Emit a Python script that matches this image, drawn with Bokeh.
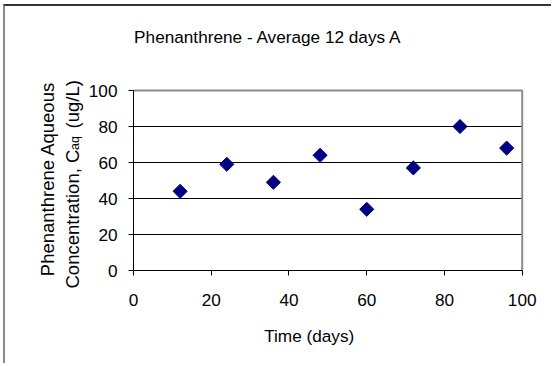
import numpy as np
from bokeh.plotting import figure
from bokeh.models import Range1d, FixedTicker, Label
from bokeh.embed import file_html
from bokeh.resources import INLINE

# ---- data ----
time_days = [12, 24, 36, 48, 60, 72, 84, 96]
conc_ugL = [44, 59, 49, 64, 34, 57, 80, 68]
x_ticks = [0, 20, 40, 60, 80, 100]
y_ticks = [0, 20, 40, 60, 80, 100]
grid_ticks = [20, 40, 60, 80]
x_lim = [0, 100]
y_lim = [0, 100]
title_text = "Phenanthrene - Average 12 days A"
x_label_text = "Time (days)"
y_label_line1 = "Phenanthrene Aqueous"
y_label_line2a = "Concentration, C"
y_label_sub = "aq"
y_label_line2b = "(ug/L)"

FONT = "Liberation Sans"
# ---- layout (pixels on the page) ----
OX, OY = 5, 6               # canvas origin on the page
W, H = 548, 359             # canvas size
PX0, PX1 = 133.0, 521.7     # page x of x_lim[0], x_lim[1]
PY0, PY1 = 270.0, 90.0      # page y of y_lim[0], y_lim[1]

kx = (PX1 - PX0) / (x_lim[1] - x_lim[0])
ky = (PY0 - PY1) / (y_lim[1] - y_lim[0])

def X(px):
    return x_lim[0] + (px - PX0) / kx
def Y(py):
    return y_lim[0] + (PY0 - py) / ky

p = figure(width=W, height=H, output_backend="svg", toolbar_location=None,
           x_range=Range1d(X(OX), X(OX + W)), y_range=Range1d(Y(OY + H), Y(OY)),
           min_border_left=0, min_border_right=0,
           min_border_top=0, min_border_bottom=0)
p.styles = {"margin-left": "3px", "margin-top": "4px",
            "border-left": "2px solid #8a8a8a", "border-top": "2px solid #333333"}
p.background_fill_color = "white"
p.border_fill_color = "white"
p.outline_line_color = None
p.xgrid.visible = False
p.ygrid.visible = False

for ax in (p.xaxis[0], p.yaxis[0]):
    ax.axis_line_color = "black"
    ax.axis_line_width = 1
    ax.major_tick_line_color = "black"
    ax.major_tick_out = 5
    ax.major_tick_in = 0
    ax.minor_tick_line_color = None
    ax.major_label_text_font = FONT
    ax.major_label_text_font_size = "17.2px"
    ax.major_label_text_color = "black"
p.xaxis.fixed_location = y_lim[0]
p.yaxis.fixed_location = x_lim[0]
p.xaxis.bounds = tuple(x_lim)
p.yaxis.bounds = tuple(y_lim)
p.xaxis.ticker = FixedTicker(ticks=x_ticks)
p.yaxis.ticker = FixedTicker(ticks=y_ticks)
p.xaxis.major_label_standoff = 18
p.yaxis.major_label_standoff = 11

# horizontal gridlines
n = len(grid_ticks)
p.segment(x0=[x_lim[0]] * n, x1=[x_lim[1]] * n, y0=grid_ticks, y1=grid_ticks,
          line_color="black", line_width=1)
# plot-area border (top and right, grey)
p.line(x=[x_lim[0], x_lim[1], x_lim[1]], y=[y_lim[1], y_lim[1], y_lim[0]],
       line_color="#8c8c8c", line_width=2)

p.scatter(time_days, conc_ugL, marker="square", angle=np.pi / 4, size=10,
          fill_color="#000080", line_color="#000080")

def lab(text, px, py, size, angle=0.0, align="center"):
    p.add_layout(Label(x=X(px), y=Y(py), text=text,
                       text_font=FONT, text_font_size=size, text_color="black",
                       text_align=align, text_baseline="alphabetic", angle=angle))

lab(title_text, 267.7, 36, "17.2px")
lab(x_label_text, 308.7, 335.7, "17.2px")
lab(y_label_line1, 47.3, 178.5, "18.5px", angle=np.pi / 2)
lab(y_label_line2a, 72.0, 288, "18.5px", angle=np.pi / 2, align="left")
lab(y_label_sub, 74.5, 149.5, "12.5px", angle=np.pi / 2, align="left")
lab(y_label_line2b, 72.0, 128, "18.5px", angle=np.pi / 2, align="left")

open("out.html", "w").write(file_html(p, INLINE))
